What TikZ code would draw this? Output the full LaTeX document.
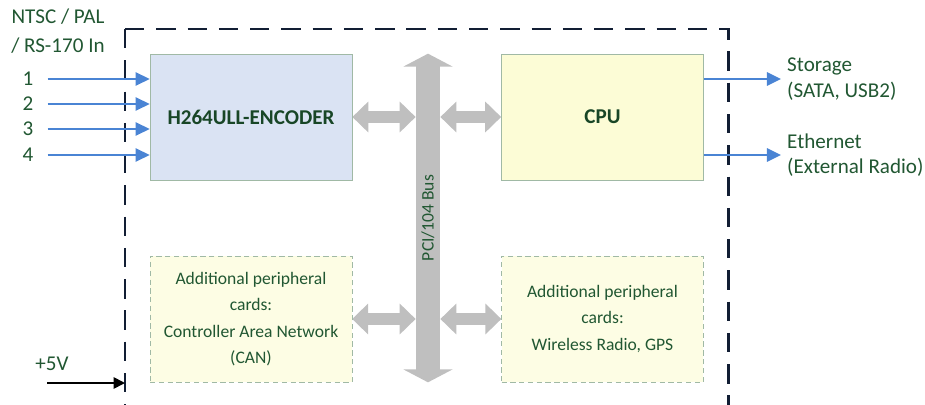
\documentclass[tikz,border=0pt]{standalone}
\usepackage{fontspec}
\setmainfont{Carlito}
\usetikzlibrary{arrows.meta,positioning,backgrounds}
\definecolor{txtgreen}{RGB}{33,87,50}
\definecolor{hdgreen}{RGB}{24,70,38}
\definecolor{encfill}{RGB}{218,227,243}
\definecolor{cpufill}{RGB}{252,252,214}
\definecolor{perfill}{RGB}{253,253,228}
\definecolor{boxline}{RGB}{160,185,165}
\definecolor{sigblue}{RGB}{74,132,212}
\definecolor{framenavy}{RGB}{18,30,52}
\definecolor{busgray}{RGB}{191,191,191}

\begin{document}
\begin{tikzpicture}[x=0.02cm,y=-0.02cm]
		\tikzstyle{unit}=[draw=boxline,thin,minimum width=4.04cm,minimum height=2.52cm,font=\fontsize{12}{14}\selectfont\bfseries,text=hdgreen]
		\tikzstyle{card}=[draw=boxline,densely dashed,very thin,fill=perfill,minimum width=4.04cm,minimum height=2.52cm,align=center,font=\fontsize{10}{15}\selectfont,text=txtgreen]
		\tikzstyle{sigtext}=[text=txtgreen,font=\fontsize{12}{14.5}\selectfont,align=left]
		\tikzstyle{signal}=[draw=sigblue,line width=1.3pt,-{Triangle[length=8pt,width=7.5pt]}]
		\tikzstyle{power}=[draw=black,line width=1pt,-{Triangle[length=6.5pt,width=6.5pt]}]
		\tikzstyle{link}=[draw=busgray,line width=0.24cm,{Triangle[length=0.32cm,width=0.6cm]}-{Triangle[length=0.32cm,width=0.6cm]}]
		\tikzstyle{busline}=[draw=busgray,line width=0.48cm,{Triangle[length=0.26cm,width=0.98cm]}-{Triangle[length=0.26cm,width=0.98cm]}]
		\tikzstyle{housing}=[draw=framenavy,line width=1.7pt,dash pattern=on 11pt off 6.8pt]
		
		\useasboundingbox (0,0) rectangle (925,405);
		\draw[housing] (125,29) -- (125,405);
		\draw[housing] (125,29) -- (728,29) -- (728,405);
		
		\node[unit,fill=encfill] (enc) at (251,117) {H264ULL-ENCODER};
		\node[unit,fill=cpufill] (cpu) at (602.5,117) {CPU};
		\node[card] (can) at (251,319) {Additional peripheral\\cards:\\Controller Area Network\\(CAN)};
		\node[card] (wrl) at (602.5,319) {Additional peripheral\\cards:\\Wireless Radio, GPS};
		\node[minimum width=0.48cm,minimum height=6.56cm,inner sep=0pt,text=txtgreen,font=\fontsize{10}{12}\selectfont] (bus) at (428,218) {\rotatebox{90}{PCI/104 Bus}};
		
		\begin{scope}[on background layer]
			\draw[busline] (bus.north) -- (bus.south);
			\draw[link] (enc.east) -- (enc.east -| bus.west);
			\draw[link] (cpu.west -| bus.east) -- (cpu.west);
			\draw[link] (can.east) -- (can.east -| bus.west);
			\draw[link] (wrl.west -| bus.east) -- (wrl.west);
		\end{scope}
		
		\node[sigtext,align=center,font=\fontsize{12}{16.5}\selectfont] (src) at (58,31) {NTSC / PAL\\/ RS-170 In};
		\foreach \i/\y in {1/79,2/104,3/129,4/155}{
			\node[sigtext] (in\i) at (28,\y) {\i};
			\draw[signal] ([xshift=0.16cm]in\i.east) -- (in\i -| enc.west);
		}
		
		\node[sigtext,anchor=west] (stor) at (781,79) {Storage\\(SATA, USB2)};
		\node[sigtext,anchor=west] (eth) at (781,155) {Ethernet\\(External Radio)};
		\draw[signal] (cpu.east |- stor.west) -- (stor.west);
		\draw[signal] (cpu.east |- eth.west) -- (eth.west);
		
		\node[sigtext] (pwr) at (52,364) {+5V};
		\coordinate (pwrin) at (47,383);
		\coordinate (pwrend) at (125,383);
		\draw[power] (pwrin) -- (pwrend);
\end{tikzpicture}
\end{document}
